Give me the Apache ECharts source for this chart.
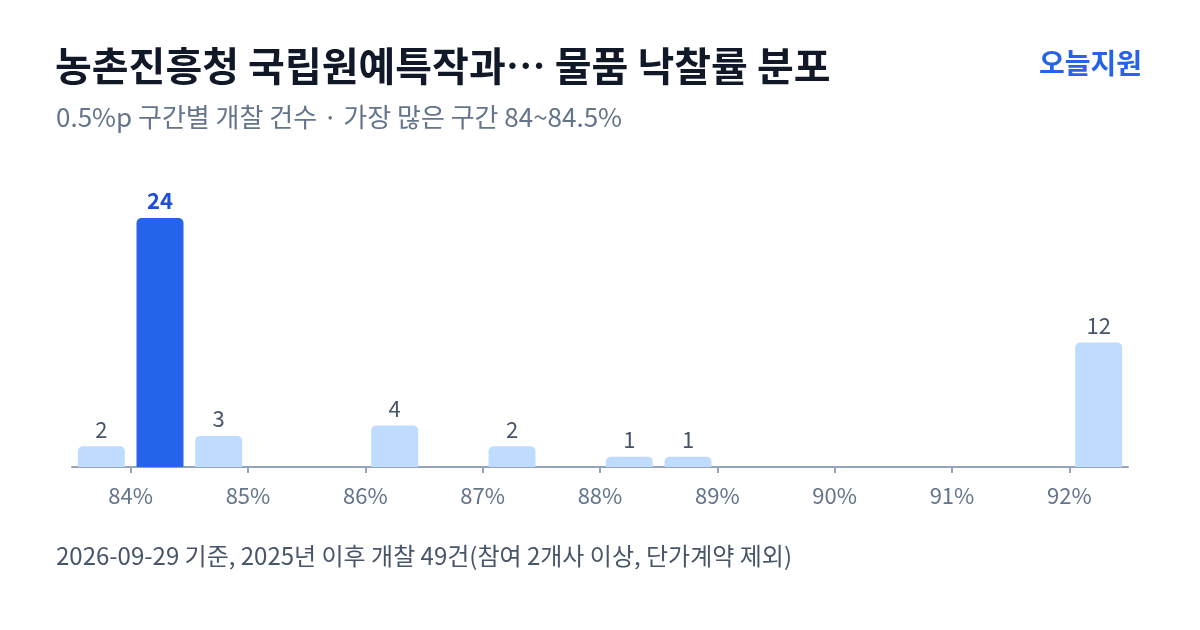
<!DOCTYPE html>
<html>
<head>
<meta charset="utf-8">
<script src="https://cdn.jsdelivr.net/npm/echarts@6/dist/echarts.min.js"></script>
<style>
  html, body { margin: 0; padding: 0; background: #fff; }
  #chart { width: 1200px; height: 630px; }
</style>
</head>
<body>
<div id="chart"></div>
<script>
// 0.5%p 구간 하한값과 개찰 건수
const binStarts = [83.5, 84, 84.5, 86, 87, 88, 88.5, 92];
const counts = [2, 24, 3, 4, 2, 1, 1, 12];
const tickValues = [84, 85, 86, 87, 88, 89, 90, 91, 92];
const topBin = 84;

const font = "'Noto Sans CJK KR', 'Noto Sans', sans-serif";

let myChart = echarts.init(document.getElementById('chart'));

let seriesData = binStarts.map(function (b, i) {
  let isTop = b === topBin;
  return {
    value: [b + 0.25, counts[i]],
    itemStyle: { color: isTop ? '#2563eb' : '#bfdbfe' },
    label: isTop ? { color: '#1d4ed8', fontWeight: 'bold' } : {}
  };
});

let option = {
  backgroundColor: '#ffffff',
  textStyle: { fontFamily: font },
  title: [
    {
      text: '농촌진흥청 국립원예특작과… 물품 낙찰률 분포',
      left: 55,
      top: 46,
      padding: 0,
      textStyle: { fontSize: 40, fontWeight: 'bold', color: '#111827', fontFamily: font }
    },
    {
      text: '0.5%p 구간별 개찰 건수 · 가장 많은 구간 84~84.5%',
      left: 56,
      top: 104,
      padding: 0,
      textStyle: { fontSize: 26, fontWeight: 'normal', color: '#64748b', fontFamily: font }
    },
    {
      text: '오늘지원',
      right: 58,
      top: 49,
      padding: 0,
      textStyle: { fontSize: 28, fontWeight: 'bold', color: '#2563eb', fontFamily: font }
    },
    {
      text: '2026-09-29 기준, 2025년 이후 개찰 49건(참여 2개사 이상, 단가계약 제외)',
      left: 56,
      top: 544,
      padding: 0,
      textStyle: { fontSize: 24, fontWeight: 'normal', color: '#475569', fontFamily: font }
    }
  ],
  grid: {
    left: 72,
    right: 72,
    top: 218,
    height: 249,
    containLabel: false
  },
  xAxis: {
    type: 'value',
    min: 83.5,
    max: 92.5,
    splitLine: { show: false },
    axisLine: { show: true, lineStyle: { color: '#94a3b8', width: 2 } },
    axisTick: {
      show: true,
      length: 6,
      lineStyle: { color: '#94a3b8', width: 2 },
      customValues: tickValues
    },
    axisLabel: {
      customValues: tickValues,
      margin: 18,
      fontSize: 22,
      color: '#64748b',
      fontFamily: font,
      formatter: function (v) { return v + '%'; }
    }
  },
  yAxis: {
    type: 'value',
    min: 0,
    max: 24,
    show: false
  },
  series: [
    {
      type: 'bar',
      barWidth: 47,
      data: seriesData,
      itemStyle: { borderRadius: [5, 5, 0, 0] },
      label: {
        show: true,
        position: 'top',
        distance: 6,
        fontSize: 22,
        color: '#475569',
        fontFamily: font,
        formatter: function (p) { return p.value[1]; }
      }
    }
  ]
};

myChart.setOption(option);
</script>
</body>
</html>
